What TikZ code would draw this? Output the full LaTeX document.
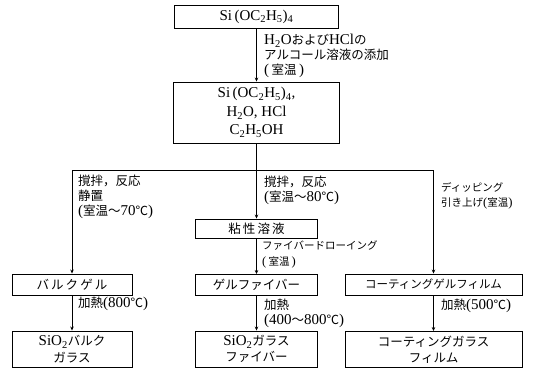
\documentclass[tikz,border=0pt]{standalone}
\usepackage{fontspec}
\setmainfont{Liberation Serif}[Scale=1.2]
\newfontfamily\jp{Noto Sans CJK JP}
\newcommand\J[1]{{\jp #1}}
\usetikzlibrary{arrows.meta}
\begin{document}
\begin{tikzpicture}[x=1pt,y=-1pt,
  box/.style={draw,line width=0.9pt,inner sep=0pt,align=center,font=\fontsize{12.5}{18.5}\selectfont},
  smallbox/.style={box,minimum height=21pt},
  bigbox/.style={box,minimum height=36pt,font=\fontsize{12.5}{16.5}\selectfont},
  lbl/.style={inner sep=0pt,anchor=west,align=left,font=\fontsize{12.5}{15}\selectfont},
  slbl/.style={lbl,font=\fontsize{10.5}{15.5}\selectfont},
  conn/.style={line width=0.8pt},
  arr/.style={conn,-{Stealth[length=4pt,width=3.5pt]}}]
\useasboundingbox (0,0) rectangle (540,372);
% boxes
\node[box,minimum width=164pt,minimum height=23pt] (teos) at (256.5,16.5)
  {Si\,(OC\textsubscript{2}H\textsubscript{5})\textsubscript{4}};
\node[box,minimum width=166pt,minimum height=61pt] (mix) at (256.5,112.5)
  {Si\,(OC\textsubscript{2}H\textsubscript{5})\textsubscript{4},\\ H\textsubscript{2}O, HCl\\ C\textsubscript{2}H\textsubscript{5}OH};
\node[box,minimum width=122pt,minimum height=19pt] (visc) at (256.5,228.5) {\J{粘\,性\,溶\,液}};
\node[smallbox,minimum width=120pt] (bulkgel) at (72,284.5) {\J{バ\,ル\,ク\,ゲ\,ル}};
\node[smallbox,minimum width=122pt] (gelfib) at (256.5,285) {\J{ゲルファイバー}};
\node[smallbox,minimum width=177pt,font=\fontsize{11.5}{15}\selectfont] (coatgel) at (433.5,284.5) {\J{コーティングゲルフィルム}};
\node[bigbox,minimum width=120pt] (bulkglass) at (72,349) {SiO\textsubscript{2}\J{バルク}\\\J{ガラス}};
\node[bigbox,minimum width=122pt] (glassfib) at (256.5,349) {SiO\textsubscript{2}\J{ガラス}\\\J{ファイバー}};
\node[bigbox,minimum width=177pt] (coatglass) at (433.5,349.5) {\J{コーティングガラス}\\\J{フィルム}};
% connectors
\draw[arr] (teos.south) -- (mix.north);
\coordinate (bm) at (256.5,170);
\coordinate (bl) at (bulkgel.north |- bm);
\coordinate (br) at (coatgel.north |- bm);
\draw[conn] (mix.south) -- (bm);
\draw[conn] (bl) -- (br);
\draw[arr] (bl) -- (bulkgel.north);
\draw[arr] (bm) -- (visc.north);
\draw[arr] (br) -- (coatgel.north);
\draw[arr] (visc.south) -- (gelfib.north);
\draw[arr] (bulkgel.south) -- (bulkglass.north);
\draw[arr] (gelfib.south) -- (glassfib.north);
\draw[arr] (coatgel.south) -- (coatglass.north);
% labels
\node[lbl] (addl) at (264,56) {H\textsubscript{2}O\J{および}HCl\J{の}\\\J{アルコール溶液の添加}\\(\,\J{室温}\,)};
\node[lbl] (leftl) at (78,197) {\J{撹拌，反応}\\\J{静置}\\(\J{室温～}70\J{℃})};
\node[lbl] (midl) at (264,190.5) {\J{撹拌，反応}\\(\J{室温～}80\J{℃})};
\node[slbl] (rightl) at (441,196) {\J{ディッピング}\\\J{引き上げ}(\J{室温})};
\node[slbl] (drawl) at (262,254.5) {\J{ファイバードローイング}\\(\,\J{室温}\,)};
\node[lbl] (heatl) at (78,304) {\J{加熱}(800\J{℃})};
\node[lbl] (heatm) at (264,313.5) {\J{加熱}\\(400\J{～}800\J{℃})};
\node[lbl] (heatr) at (441,306) {\J{加熱}(500\J{℃})};
\end{tikzpicture}
\end{document}
